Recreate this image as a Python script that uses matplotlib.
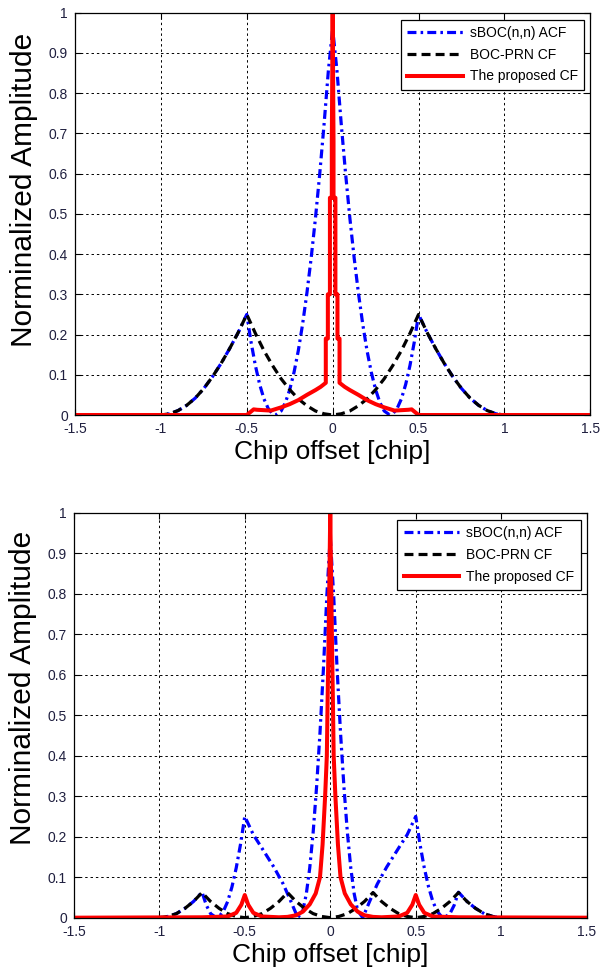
import matplotlib
matplotlib.use("Agg")
import matplotlib.pyplot as plt

plt.rcParams['font.family'] = ['Liberation Sans', 'DejaVu Sans']

# --- COURBES DU HAUT ---
x_sboc_1 = [-1.5, -1.0, -0.95, -0.9, -0.85, -0.8, -0.75, -0.7, -0.65, -0.6, -0.55, -0.5,
            -0.475, -0.45, -0.425, -0.4, -0.375, -0.35, -0.333, -0.3, -0.275, -0.25, -0.225,
            -0.2, -0.175, -0.15, -0.125, -0.1, -0.075, -0.05, -0.025, 0.0,
            0.025, 0.05, 0.075, 0.1, 0.125, 0.15, 0.175, 0.2, 0.225, 0.25, 0.275, 0.3,
            0.333, 0.35, 0.375, 0.4, 0.425, 0.45, 0.475, 0.5,
            0.55, 0.6, 0.65, 0.7, 0.75, 0.8, 0.85, 0.9, 0.95, 1.0, 1.5]
y_sboc_1 = [0, 0, 0.003, 0.011, 0.024, 0.042, 0.066, 0.095, 0.128, 0.165, 0.205, 0.25,
            0.181, 0.123, 0.076, 0.04, 0.016, 0.003, 0, 0.01, 0.031, 0.063, 0.106,
            0.16, 0.226, 0.303, 0.391, 0.49, 0.601, 0.723, 0.856, 0.96,
            0.856, 0.723, 0.601, 0.49, 0.391, 0.303, 0.226, 0.16, 0.106, 0.063, 0.031, 0.01,
            0, 0.003, 0.016, 0.04, 0.076, 0.123, 0.181, 0.25,
            0.205, 0.165, 0.128, 0.095, 0.066, 0.042, 0.024, 0.011, 0.003, 0, 0]

x_prn_1 = [-1.5, -1.0, -0.95, -0.9, -0.85, -0.8, -0.75, -0.7, -0.65, -0.6, -0.55, -0.5,
           -0.45, -0.4, -0.35, -0.3, -0.25, -0.2, -0.15, -0.1, -0.05, 0.0,
           0.05, 0.1, 0.15, 0.2, 0.25, 0.3, 0.35, 0.4, 0.45, 0.5,
           0.55, 0.6, 0.65, 0.7, 0.75, 0.8, 0.85, 0.9, 0.95, 1.0, 1.5]
y_prn_1 = [0, 0, 0.003, 0.011, 0.024, 0.042, 0.066, 0.095, 0.128, 0.165, 0.205, 0.25,
           0.203, 0.16, 0.123, 0.09, 0.063, 0.04, 0.023, 0.01, 0.003, 0,
           0.003, 0.01, 0.023, 0.04, 0.063, 0.09, 0.123, 0.16, 0.203, 0.25,
           0.205, 0.165, 0.128, 0.095, 0.066, 0.042, 0.024, 0.011, 0.003, 0, 0]

x_prop_1 = [-1.5, -0.5, -0.46, -0.44, -0.36, -0.3, -0.25, -0.2, -0.15, -0.1, -0.07,
            -0.04, -0.04, -0.028, -0.028, -0.016, -0.016, -0.005, -0.005, 0.0,
            0.005, 0.005, 0.016, 0.016, 0.028, 0.028, 0.04, 0.04,
            0.07, 0.1, 0.15, 0.2, 0.25, 0.3, 0.36, 0.44, 0.46, 0.5, 1.5]
y_prop_1 = [0, 0, 0.014, 0.013, 0.011, 0.019, 0.027, 0.037, 0.05, 0.062, 0.07,
            0.08, 0.19, 0.19, 0.30, 0.30, 0.54, 0.54, 0.68, 1.0,
            0.68, 0.54, 0.54, 0.30, 0.30, 0.19, 0.19, 0.08,
            0.07, 0.062, 0.05, 0.037, 0.027, 0.019, 0.011, 0.013, 0.014, 0, 0]

# --- COURBES DU BAS ---
x_sboc_2 = [-1.5, -1.0, -0.95, -0.9, -0.85, -0.8, -0.75, -0.725, -0.7, -0.667, -0.65, -0.625,
            -0.6, -0.575, -0.55, -0.525, -0.5, -0.45, -0.4, -0.33, -0.275, -0.23, -0.19,
            -0.16, -0.14, -0.12, -0.1, -0.08, -0.06, -0.04, -0.02, 0.0,
            0.02, 0.04, 0.06, 0.08, 0.1, 0.12, 0.14, 0.16, 0.19, 0.23, 0.275, 0.33, 0.4, 0.45,
            0.5, 0.525, 0.55, 0.575, 0.6, 0.625, 0.65, 0.667, 0.7, 0.725, 0.75,
            0.8, 0.85, 0.9, 0.95, 1.0, 1.5]
y_sboc_2 = [0, 0, 0.003, 0.01, 0.023, 0.04, 0.063, 0.031, 0.01, 0, 0.003, 0.016,
            0.04, 0.076, 0.123, 0.181, 0.25, 0.205, 0.172, 0.125, 0.083, 0.04, 0,
            0.018, 0.059, 0.123, 0.211, 0.323, 0.457, 0.614, 0.795, 0.94,
            0.795, 0.614, 0.457, 0.323, 0.211, 0.123, 0.059, 0.018, 0, 0.04, 0.083, 0.125, 0.172, 0.205,
            0.25, 0.181, 0.123, 0.076, 0.04, 0.016, 0.003, 0, 0.01, 0.031, 0.063,
            0.04, 0.023, 0.01, 0.003, 0, 0]

x_prn_2 = [-1.5, -1.0, -0.95, -0.9, -0.85, -0.8, -0.75, -0.7, -0.65, -0.6, -0.55, -0.5,
           -0.45, -0.4, -0.35, -0.3, -0.25, -0.2, -0.15, -0.1, -0.05, 0.0,
           0.05, 0.1, 0.15, 0.2, 0.25, 0.3, 0.35, 0.4, 0.45, 0.5,
           0.55, 0.6, 0.65, 0.7, 0.75, 0.8, 0.85, 0.9, 0.95, 1.0, 1.5]
y_prn_2 = [0, 0, 0.003, 0.01, 0.023, 0.04, 0.062, 0.04, 0.023, 0.01, 0.003, 0,
           0.003, 0.01, 0.023, 0.04, 0.062, 0.04, 0.023, 0.01, 0.003, 0,
           0.003, 0.01, 0.023, 0.04, 0.062, 0.04, 0.023, 0.01, 0.003, 0,
           0.003, 0.01, 0.023, 0.04, 0.062, 0.04, 0.023, 0.01, 0.003, 0, 0]

x_prop_2 = [-1.5, -0.75, -0.6, -0.55, -0.52, -0.5, -0.48, -0.45, -0.4, -0.3, -0.25, -0.2,
            -0.16, -0.12, -0.085, -0.06, -0.045, -0.03, -0.02, -0.015, -0.01, 0.0,
            0.01, 0.015, 0.02, 0.03, 0.045, 0.06, 0.085, 0.12, 0.16, 0.2, 0.25, 0.3,
            0.4, 0.45, 0.48, 0.5, 0.52, 0.55, 0.6, 0.75, 1.5]
y_prop_2 = [0, 0.001, 0.003, 0.012, 0.032, 0.056, 0.032, 0.012, 0.003, 0.001, 0.002, 0.006,
            0.015, 0.033, 0.06, 0.10, 0.18, 0.30, 0.40, 0.55, 0.68, 1.0,
            0.68, 0.55, 0.40, 0.30, 0.18, 0.10, 0.06, 0.033, 0.015, 0.006, 0.002, 0.001,
            0.003, 0.012, 0.032, 0.056, 0.032, 0.012, 0.003, 0.001, 0]

# --- AXES ---
x_ticks = [-1.5, -1, -0.5, 0, 0.5, 1, 1.5]
x_tick_labels = ['-1.5', '-1', '-0.5', '0', '0.5', '1', '1.5']
y_ticks = [0, 0.1, 0.2, 0.3, 0.4, 0.5, 0.6, 0.7, 0.8, 0.9, 1]
y_tick_labels = ['0', '0.1', '0.2', '0.3', '0.4', '0.5', '0.6', '0.7', '0.8', '0.9', '1']
labels = ["sBOC(n,n) ACF", "BOC-PRN CF", "The proposed CF"]


def trace(ax, xs, ys, xp, yp, xr, yr, ylab_y):
    ax.plot(xs, ys, color='blue', linewidth=2.3, linestyle=(0, (2.8, 1.3, 0.8, 1.3)), label=labels[0])
    ax.plot(xp, yp, color='black', linewidth=2.3, linestyle=(0, (2.8, 1.6)), label=labels[1])
    ax.plot(xr, yr, color='red', linewidth=2.9, linestyle='-', label=labels[2])
    ax.set_xlim(-1.5, 1.5)
    ax.set_ylim(0, 1)
    ax.set_xticks(x_ticks)
    ax.set_xticklabels(x_tick_labels)
    ax.set_yticks(y_ticks)
    ax.set_yticklabels(y_tick_labels)
    ax.grid(True, color='black', linestyle=(0, (2.5, 3)), linewidth=0.7)
    ax.tick_params(direction='in', top=True, right=True, length=4, width=0.8,
                   labelsize=10, labelcolor='#1f1f3f', pad=5)
    for s in ax.spines.values():
        s.set_linewidth(0.9)
    ax.set_xlabel("Chip offset [chip]", fontsize=19, labelpad=3)
    ax.set_ylabel("Norminalized Amplitude", fontsize=21.5)
    ax.yaxis.set_label_coords(-0.072, ylab_y)
    leg = ax.legend(loc='upper right', bbox_to_anchor=(0.988, 0.982), fancybox=False,
                    edgecolor='black', fontsize=10, handlelength=4.0, borderaxespad=0,
                    framealpha=1, labelspacing=0.55, borderpad=0.45, handletextpad=0.5)
    leg.get_frame().set_linewidth(0.9)


fig = plt.figure(figsize=(6.02, 9.71), dpi=100)
ax1 = fig.add_axes([0.1246, 0.5726, 0.856, 0.4143])
ax2 = fig.add_axes([0.1226, 0.0549, 0.852, 0.4171])

trace(ax1, x_sboc_1, y_sboc_1, x_prn_1, y_prn_1, x_prop_1, y_prop_1, 0.56)
trace(ax2, x_sboc_2, y_sboc_2, x_prn_2, y_prn_2, x_prop_2, y_prop_2, 0.567)

fig.savefig("out.png", dpi=100)
